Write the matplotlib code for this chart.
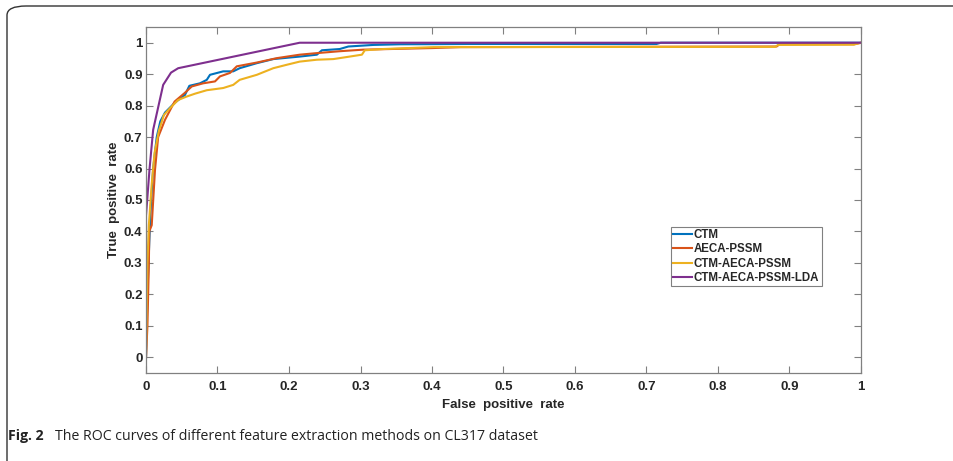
import numpy as np
import matplotlib.pyplot as plt
from matplotlib.patches import FancyBboxPatch

# Curvas ROC
fpr_ctm = [0, 0.002, 0.004, 0.006, 0.01, 0.015, 0.02, 0.0266, 0.0406, 0.0545, 0.0606, 0.0755,
           0.085, 0.0895, 0.108, 0.122, 0.131, 0.155, 0.178, 0.215, 0.239, 0.246, 0.271,
           0.283, 0.318, 0.355, 0.45, 0.714, 0.72, 1.0]
tpr_ctm = [0, 0.2, 0.33, 0.45, 0.6, 0.7, 0.75, 0.778, 0.81, 0.834, 0.863, 0.871,
           0.882, 0.898, 0.909, 0.909, 0.919, 0.935, 0.948, 0.956, 0.962, 0.976, 0.98,
           0.988, 0.993, 0.995, 0.996, 0.996, 1.0, 1.0]

fpr_aeca = [0, 0.002, 0.004, 0.0046, 0.008, 0.0126, 0.017, 0.0266, 0.04, 0.054, 0.064, 0.08,
            0.0965, 0.1035, 0.1175, 0.127, 0.155, 0.183, 0.215, 0.239, 0.271, 0.304,
            0.40, 0.44, 0.882, 0.886, 0.99, 1.0]
tpr_aeca = [0, 0.1, 0.3, 0.4, 0.42, 0.596, 0.70, 0.755, 0.813, 0.84, 0.861, 0.871,
            0.877, 0.893, 0.904, 0.925, 0.937, 0.951, 0.962, 0.967, 0.973, 0.978,
            0.983, 0.986, 0.988, 0.995, 0.995, 1.0]

fpr_ctm_aeca = [0, 0.002, 0.004, 0.008, 0.012, 0.018, 0.025, 0.0336, 0.045, 0.057, 0.0685,
                0.085, 0.108, 0.122, 0.131, 0.155, 0.178, 0.197, 0.215, 0.239, 0.262,
                0.285, 0.302, 0.306, 0.332, 0.402, 0.88, 0.884, 0.99, 1.0]
tpr_ctm_aeca = [0, 0.3, 0.42, 0.55, 0.65, 0.72, 0.77, 0.792, 0.818, 0.829, 0.838,
                0.849, 0.856, 0.866, 0.882, 0.898, 0.919, 0.930, 0.940, 0.946, 0.948,
                0.956, 0.962, 0.976, 0.98, 0.986, 0.987, 0.993, 0.994, 1.0]

fpr_lda = [0, 0.0, 0.005, 0.01, 0.024, 0.035, 0.045, 0.215, 1.0]
tpr_lda = [0, 0.45, 0.6, 0.723, 0.866, 0.905, 0.919, 1.0, 1.0]

nombres = ['CTM', 'AECA-PSSM', 'CTM-AECA-PSSM', 'CTM-AECA-PSSM-LDA']
colores = ['#0072BD', '#D95319', '#EDB120', '#7E2F8E']

xticks = np.arange(0, 1.01, 0.1)
yticks = np.arange(0, 1.01, 0.1)

def etiqueta(v):
    return '0' if v == 0 else ('1' if abs(v - 1) < 1e-9 else '%.1f' % v)

plt.rcParams['font.family'] = ['Liberation Sans', 'DejaVu Sans']

fig = plt.figure(figsize=(9.54, 4.61), dpi=100)

# Marco redondeado de la figura
marco = FancyBboxPatch((7 / 954, -0.2), 1.2, 1.2 - 6 / 461,
                       boxstyle='round,pad=0,rounding_size=0.02',
                       transform=fig.transFigure, fill=False,
                       edgecolor='#333333', linewidth=1.0, clip_on=False)
fig.patches.append(marco)

ax = fig.add_axes([146 / 954, 1 - 373 / 461, 715 / 954, 346 / 461])

datos = [(fpr_ctm, tpr_ctm), (fpr_aeca, tpr_aeca),
         (fpr_ctm_aeca, tpr_ctm_aeca), (fpr_lda, tpr_lda)]
for (x, y), nombre, c in zip(datos, nombres, colores):
    ax.plot(x, y, color=c, linewidth=1.5, label=nombre)

ax.set_xlim(0, 1)
ax.set_ylim(-0.05, 1.05)
ax.set_xticks(xticks)
ax.set_yticks(yticks)
ax.set_xticklabels([etiqueta(v) for v in xticks])
ax.set_yticklabels([etiqueta(v) for v in yticks])
ax.tick_params(direction='in', length=5, width=0.8, color='#808080',
               top=True, right=True, labelsize=9.5, labelcolor='#262626')
ax.tick_params(axis='x', pad=6)
ax.tick_params(axis='y', pad=2.5)
for lab in ax.get_xticklabels() + ax.get_yticklabels():
    lab.set_fontweight('bold')
for s in ax.spines.values():
    s.set_color('#808080')
    s.set_linewidth(0.9)

ax.set_xlabel('False  positive  rate', fontsize=9.5, fontweight='bold', color='#262626')
ax.set_ylabel('True  positive  rate', fontsize=9.5, fontweight='bold', color='#262626')
ax.xaxis.set_label_coords(0.5, -0.074)
ax.yaxis.set_label_coords(-0.036, 0.5)

leg = ax.legend(loc='lower left', bbox_to_anchor=(0.734, 0.251, 0.211, 0.185),
                mode='expand', fontsize=8.3, handlelength=1.6, handletextpad=0.15,
                borderpad=0.2, labelspacing=0.2, fancybox=False, framealpha=1,
                borderaxespad=0)
leg.get_frame().set_edgecolor('#808080')
leg.get_frame().set_linewidth(0.8)
for t in leg.get_texts():
    t.set_fontweight('bold')
    t.set_color('#262626')

# Pie de figura
fuente_pie = ['Open Sans', 'DejaVu Sans']
fig.text(8 / 954, 1 - 436 / 461, 'Fig. 2', fontsize=10.2, fontweight='bold',
         family=fuente_pie, va='center', ha='left', color='#222222')
fig.text(55 / 954, 1 - 436 / 461,
         'The ROC curves of different feature extraction methods on CL317 dataset',
         fontsize=10.2, family=fuente_pie, va='center', ha='left', color='#222222')

fig.savefig('out.png', dpi=100)
